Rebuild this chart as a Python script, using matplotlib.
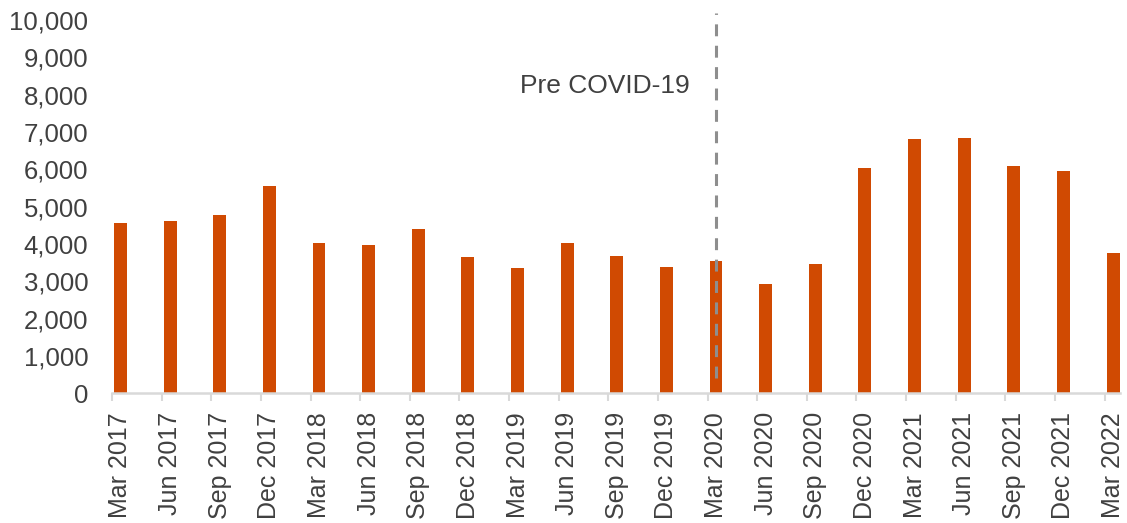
import matplotlib
matplotlib.use("Agg")
import matplotlib.pyplot as plt
from matplotlib.ticker import FuncFormatter, FixedLocator
import numpy as np

plt.rcParams['font.family'] = ['Liberation Sans', 'DejaVu Sans']

quarters = ["Mar 2017", "Jun 2017", "Sep 2017", "Dec 2017",
            "Mar 2018", "Jun 2018", "Sep 2018", "Dec 2018",
            "Mar 2019", "Jun 2019", "Sep 2019", "Dec 2019",
            "Mar 2020", "Jun 2020", "Sep 2020", "Dec 2020",
            "Mar 2021", "Jun 2021", "Sep 2021", "Dec 2021",
            "Mar 2022"]
values = [4570, 4620, 4780, 5540,
          4020, 3980, 4400, 3640,
          3350, 4020, 3690, 3390,
          3550, 2920, 3470, 6040,
          6800, 6850, 6080, 5960,
          3770]
marker_quarter = "Mar 2020"
marker_label = "Pre COVID-19"

text_color = "#404040"
bar_color = "#D04A02"
axis_gray = "#D9D9D9"

fig = plt.figure(figsize=(11.27, 5.23), dpi=100)
ax = fig.add_axes([0.0994, 0.248, 0.8944, 0.7138])

x = np.arange(len(quarters))
ax.bar(x, values, width=0.26, color=bar_color, zorder=2)

ax.set_ylim(0, 10000)
ax.set_xlim(-0.17, len(quarters) - 1 + 0.14)
ax.yaxis.set_major_locator(FixedLocator(np.arange(0, 10001, 1000)))
ax.yaxis.set_major_formatter(FuncFormatter(lambda v, p: f"{int(v):,}"))

ax.set_xticks(x)
ax.set_xticklabels(quarters, rotation=90, ha="center", va="top")
ax.set_xticks(x - 0.17, minor=True)
ax.tick_params(axis="x", which="major", length=0, pad=13.5,
               labelsize=18, labelcolor=text_color)
ax.tick_params(axis="x", which="minor", length=6, width=1.5,
               color=axis_gray, direction="out")
ax.tick_params(axis="y", length=0, pad=17, labelsize=18.5,
               labelcolor=text_color)

for side in ("top", "right", "left"):
    ax.spines[side].set_visible(False)
ax.spines["bottom"].set_color(axis_gray)
ax.spines["bottom"].set_linewidth(1.8)

# Dashed divider at the start of the pandemic
mx = quarters.index(marker_quarter)
ax.plot([mx, mx], [400, 10190], color="#8E8E8E", linestyle=(0, (3.9, 3.1)),
        linewidth=2.2, clip_on=False, zorder=3)
ax.text(mx - 0.52, 8230, marker_label, ha="right", va="center",
        fontsize=19, color=text_color)

fig.savefig("out.png", dpi=100)
